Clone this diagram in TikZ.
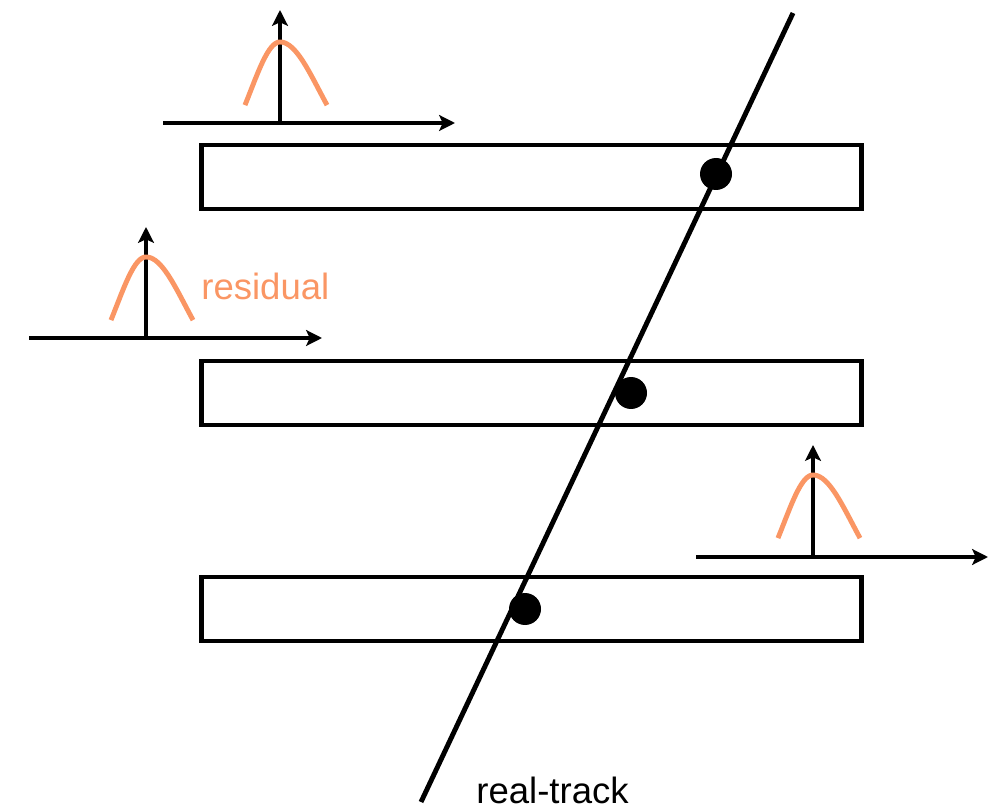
\documentclass[tikz,border=0pt]{standalone}
\usepackage{fontspec}
\setmainfont{Liberation Sans}
\usepackage{xcolor}
\usetikzlibrary{arrows.meta, positioning}
\definecolor{residorange}{RGB}{250, 150, 100}
\tikzset{
  layerbox/.style={
    rectangle, draw=black, line width=2.8pt,
    minimum width=13.22cm, minimum height=1.28cm, inner sep=0pt
  },
  hitdot/.style={
    circle, fill=black, minimum size=0.64cm, inner sep=0pt
  },
  trackline/.style={line width=2.8pt, black},
  axisarrow/.style={line width=2.5pt, -{Stealth[length=9pt, width=9pt, inset=2pt]}},
  bellcurve/.style={line width=2.8pt, draw=residorange},
  bigtext/.style={font=\fontsize{20.8}{25}\selectfont, inner sep=0pt}
}
% bell shaped residual curve, peak at (#1,#2)
\newcommand{\drawbell}[2]{%
  \draw[bellcurve] plot[domain=-1.2:0, samples=21] ({#1+29.2*\x},{#2+123*(1-exp(-\x*\x/2))})
    -- plot[domain=0:1.2, samples=21] ({#1+39.2*\x},{#2+123*(1-exp(-\x*\x/2))});}

\begin{document}
\begin{tikzpicture}[x=0.02cm, y=-0.02cm]
  \useasboundingbox (0,0) rectangle (993,810);

  %% --- detector layers ---
  \node[layerbox] (layer1) at (531.5,177) {};
  \node[layerbox] (layer2) at (531.5,393) {};
  \node[layerbox] (layer3) at (531.5,609) {};

  %% --- track ---
  \coordinate (trktop) at (793,13);
  \coordinate (trkbot) at (421,802);
  \draw[trackline] (trktop) -- (trkbot);

  %% --- hits ---
  \node[hitdot] (hit1) at (716,174) {};
  \node[hitdot] (hit2) at (631,393) {};
  \node[hitdot] (hit3) at (525,609) {};

  %% --- residual axes ---
  \coordinate (o1) at (280,123);
  \coordinate (o2) at (146,338);
  \coordinate (o3) at (813,557);

  \draw[axisarrow] (163,123) -- (455,123);
  \draw[axisarrow] (o1) -- (280,10);
  \drawbell{280}{42}

  \draw[axisarrow] (29,338) -- (322,338);
  \draw[axisarrow] (o2) -- (146,227);
  \drawbell{146}{257}

  \draw[axisarrow] (696,557) -- (988,557);
  \draw[axisarrow] (o3) -- (813,445);
  \drawbell{813}{475}

  %% --- labels ---
  \node[bigtext, text=residorange, anchor=base west] (resid) at (201,300) {residual};
  \node[bigtext, anchor=base west] (trklabel) at (476,803) {real-track};

\end{tikzpicture}
\end{document}
